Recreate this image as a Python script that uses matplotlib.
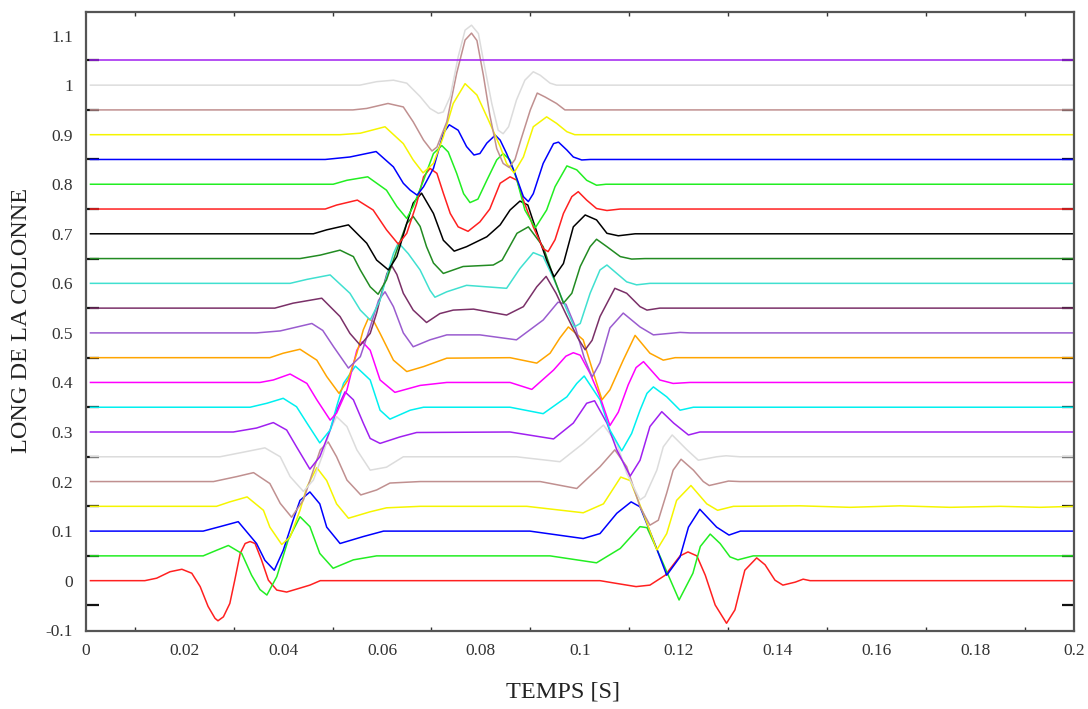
import numpy as np
import matplotlib
matplotlib.use("Agg")
import matplotlib.pyplot as plt

# each trace: (time [s], deviation from its baseline)
p00 = [(0.001, 0), (0.012, 0), (0.0144, 0.005), (0.0171, 0.018), (0.0195, 0.023), (0.0215, 0.015),
       (0.0232, -0.012), (0.0248, -0.052), (0.0262, -0.076), (0.0268, -0.081), (0.0279, -0.073),
       (0.0292, -0.046), (0.0302, 0.001), (0.0313, 0.055), (0.0323, 0.075), (0.0333, 0.079),
       (0.0343, 0.075), (0.0356, 0.042), (0.0370, 0.001), (0.0387, -0.019), (0.0407, -0.023),
       (0.0434, -0.015), (0.0454, -0.009), (0.0475, 0), (0.1041, 0), (0.1071, -0.005),
       (0.1114, -0.012), (0.1142, -0.009), (0.1173, 0.011), (0.1203, 0.050), (0.1219, 0.058),
       (0.1237, 0.050), (0.1254, 0.011), (0.1274, -0.049), (0.1297, -0.086), (0.1314, -0.059),
       (0.1334, 0.021), (0.1358, 0.046), (0.1375, 0.032), (0.1395, 0.001), (0.1411, -0.009),
       (0.1436, -0.003), (0.1452, 0.003), (0.1466, 0), (0.2, 0)]
p01 = [(0.001, 0), (0.0238, 0), (0.0262, 0.010), (0.0289, 0.021), (0.0316, 0.005), (0.0336, -0.039),
       (0.0353, -0.068), (0.0367, -0.079), (0.0387, -0.042), (0.0410, 0.032), (0.0434, 0.079),
       (0.0454, 0.059), (0.0474, 0.005), (0.0501, -0.025), (0.0542, -0.008), (0.0589, 0), (0.0940, 0),
       (0.1034, -0.014), (0.1082, 0.015), (0.1122, 0.059), (0.1136, 0.057), (0.1163, -0.002),
       (0.1201, -0.089), (0.1229, -0.035), (0.1244, 0.019), (0.1264, 0.044), (0.1284, 0.025),
       (0.1304, -0.002), (0.1320, -0.008), (0.1351, 0), (0.2, 0)]
p02 = [(0.001, 0), (0.0238, 0), (0.0272, 0.009), (0.0309, 0.019), (0.0346, -0.025), (0.0363, -0.059),
       (0.0382, -0.079), (0.0400, -0.039), (0.0420, 0.022), (0.0434, 0.062), (0.0454, 0.079),
       (0.0474, 0.055), (0.0488, 0.008), (0.0515, -0.025), (0.0562, -0.011), (0.0603, 0), (0.0899, 0),
       (0.1007, -0.015), (0.1041, -0.005), (0.1075, 0.036), (0.1104, 0.059), (0.1122, 0.049),
       (0.1149, -0.018), (0.1176, -0.089), (0.1203, -0.052), (0.1220, 0.008), (0.1243, 0.044),
       (0.1277, 0.008), (0.1302, -0.008), (0.1325, 0), (0.2, 0)]
p03 = [(0.001, 0), (0.0265, 0), (0.0292, 0.009), (0.0327, 0.019), (0.0360, -0.008), (0.0373, -0.042),
       (0.0397, -0.077), (0.0414, -0.062), (0.0434, -0.008), (0.0448, 0.039), (0.0468, 0.078),
       (0.0488, 0.052), (0.0508, 0.005), (0.0532, -0.024), (0.0576, -0.011), (0.0609, -0.003),
       (0.0677, 0), (0.0893, 0), (0.1007, -0.013), (0.1048, 0.005), (0.1083, 0.059), (0.1102, 0.052),
       (0.1129, -0.015), (0.1156, -0.088), (0.1176, -0.055), (0.1196, 0.012), (0.1225, 0.042),
       (0.1257, 0.005), (0.1279, -0.008), (0.1311, 0), (0.1446, 0.001), (0.1547, -0.002),
       (0.1648, 0.001), (0.1749, -0.002), (0.1851, 0), (0.1931, -0.002), (0.2, 0)]
p04 = [(0.001, 0), (0.0259, 0), (0.0306, 0.010), (0.0340, 0.018), (0.0373, -0.004), (0.0394, -0.044),
       (0.0417, -0.072), (0.0441, -0.037), (0.0461, 0.023), (0.0475, 0.064), (0.0491, 0.080),
       (0.0508, 0.050), (0.0529, 0.003), (0.0557, -0.027), (0.0589, -0.017), (0.0616, -0.003),
       (0.0677, 0), (0.0920, 0), (0.0994, -0.014), (0.1041, 0.030), (0.1071, 0.064), (0.1095, 0.030),
       (0.1122, -0.051), (0.1142, -0.088), (0.1159, -0.078), (0.1176, -0.023), (0.1189, 0.023),
       (0.1205, 0.045), (0.1230, 0.023), (0.1250, 0), (0.1262, -0.008), (0.1301, 0.001), (0.1324, 0),
       (0.2, 0)]
p05 = [(0.001, 0), (0.0272, 0), (0.0323, 0.010), (0.0363, 0.018), (0.0394, 0), (0.0414, -0.040),
       (0.0441, -0.070), (0.0461, -0.047), (0.0481, 0.007), (0.0495, 0.054), (0.0508, 0.081),
       (0.0529, 0.061), (0.0549, 0.014), (0.0576, -0.027), (0.0609, -0.021), (0.0643, 0), (0.0872, 0),
       (0.0960, -0.010), (0.1007, 0.027), (0.1048, 0.064), (0.1075, 0.027), (0.1095, -0.033),
       (0.1122, -0.087), (0.1132, -0.080), (0.1156, -0.027), (0.1169, 0.020), (0.1187, 0.044),
       (0.1217, 0.014), (0.1240, -0.007), (0.1277, 0), (0.1296, 0.002), (0.1324, 0), (0.2, 0)]
p06 = [(0.001, 0), (0.0299, 0), (0.0346, 0.008), (0.0380, 0.019), (0.0407, 0.004), (0.0427, -0.030),
       (0.0454, -0.075), (0.0474, -0.050), (0.0495, 0.004), (0.0508, 0.044), (0.0525, 0.081),
       (0.0542, 0.065), (0.0562, 0.018), (0.0576, -0.013), (0.0596, -0.023), (0.0636, -0.010),
       (0.0670, -0.001), (0.0859, 0), (0.0947, -0.014), (0.0987, 0.018), (0.1014, 0.058),
       (0.1030, 0.063), (0.1055, 0.018), (0.1075, -0.036), (0.1102, -0.089), (0.1122, -0.057),
       (0.1142, 0.011), (0.1166, 0.041), (0.1190, 0.018), (0.1220, -0.006), (0.1243, 0), (0.2, 0)]
p07 = [(0.001, 0), (0.0333, 0), (0.0367, 0.008), (0.0400, 0.018), (0.0427, 0.001), (0.0448, -0.032),
       (0.0474, -0.072), (0.0495, -0.046), (0.0508, 0.001), (0.0522, 0.048), (0.0546, 0.083),
       (0.0560, 0.070), (0.0576, 0.055), (0.0596, -0.006), (0.0616, -0.024), (0.0657, -0.006),
       (0.0684, 0), (0.0859, 0), (0.0926, -0.013), (0.0974, 0.021), (0.0994, 0.048), (0.1009, 0.063),
       (0.1041, 0.015), (0.1061, -0.046), (0.1085, -0.088), (0.1105, -0.053), (0.1122, -0.006),
       (0.1136, 0.028), (0.1149, 0.041), (0.1176, 0.021), (0.1203, -0.006), (0.1230, 0), (0.2, 0)]
p08 = [(0.001, 0), (0.0353, 0), (0.0380, 0.005), (0.0414, 0.017), (0.0448, -0.002), (0.0468, -0.035),
       (0.0495, -0.076), (0.0508, -0.062), (0.0529, -0.015), (0.0549, 0.065), (0.0560, 0.082),
       (0.0576, 0.065), (0.0596, 0.005), (0.0626, -0.020), (0.0677, -0.006), (0.0731, 0), (0.0859, 0),
       (0.0903, -0.014), (0.0947, 0.025), (0.0972, 0.053), (0.0987, 0.060), (0.1001, 0.055),
       (0.1021, 0.018), (0.1041, -0.029), (0.1061, -0.087), (0.1078, -0.060), (0.1098, -0.005),
       (0.1114, 0.030), (0.1129, 0.042), (0.1162, 0.005), (0.1189, -0.002), (0.1223, 0), (0.2, 0)]
p09 = [(0.001, 0), (0.0373, 0), (0.0400, 0.009), (0.0434, 0.017), (0.0468, -0.005), (0.0488, -0.038),
       (0.0513, -0.072), (0.0531, -0.045), (0.0549, 0.009), (0.0562, 0.056), (0.0572, 0.079),
       (0.0584, 0.072), (0.0596, 0.049), (0.0623, -0.005), (0.0650, -0.028), (0.0684, -0.018),
       (0.0731, -0.001), (0.0859, 0), (0.0913, -0.011), (0.0940, 0.009), (0.0960, 0.040),
       (0.0977, 0.062), (0.1007, 0.036), (0.1028, -0.032), (0.1045, -0.085), (0.1061, -0.065),
       (0.1088, -0.005), (0.1112, 0.045), (0.1142, 0.009), (0.1169, -0.005), (0.1193, 0), (0.2, 0)]
p10 = [(0.001, 0), (0.0346, 0), (0.0394, 0.004), (0.0458, 0.019), (0.0480, 0.005), (0.0502, -0.028),
       (0.0532, -0.071), (0.0556, -0.048), (0.0576, 0.012), (0.0593, 0.066), (0.0606, 0.083),
       (0.0623, 0.053), (0.0643, 0), (0.0663, -0.028), (0.0697, -0.014), (0.0731, -0.004),
       (0.0798, -0.004), (0.0872, -0.014), (0.0926, 0.026), (0.0956, 0.062), (0.0972, 0.058),
       (0.0990, 0.015), (0.1009, -0.050), (0.1025, -0.089), (0.1041, -0.060), (0.1061, 0.010),
       (0.1088, 0.040), (0.1122, 0.012), (0.1149, -0.004), (0.1203, 0.001), (0.1223, 0), (0.2, 0)]
p11 = [(0.001, 0), (0.0383, 0), (0.0420, 0.010), (0.0478, 0.020), (0.0515, -0.017), (0.0535, -0.051),
       (0.0556, -0.075), (0.0576, -0.051), (0.0589, -0.010), (0.0599, 0.030), (0.0610, 0.070),
       (0.0620, 0.085), (0.0630, 0.068), (0.0643, 0.030), (0.0663, -0.004), (0.0690, -0.029),
       (0.0717, -0.011), (0.0744, -0.004), (0.0785, -0.002), (0.0852, -0.014), (0.0886, 0.003),
       (0.0913, 0.043), (0.0932, 0.064), (0.0952, 0.030), (0.0974, -0.016), (0.0996, -0.060),
       (0.1011, -0.084), (0.1025, -0.065), (0.1041, -0.017), (0.1071, 0.040), (0.1095, 0.030),
       (0.1122, 0.003), (0.1136, -0.004), (0.1162, 0), (0.2, 0)]
p12 = [(0.001, 0), (0.0414, 0), (0.0448, 0.008), (0.0495, 0.017), (0.0535, -0.020), (0.0556, -0.054),
       (0.0576, -0.074), (0.0596, -0.034), (0.0609, 0.013), (0.0623, 0.060), (0.0633, 0.082),
       (0.0653, 0.060), (0.0677, 0.027), (0.0697, -0.014), (0.0707, -0.028), (0.0731, -0.017),
       (0.0771, -0.004), (0.0852, -0.010), (0.0879, 0.030), (0.0906, 0.062), (0.0926, 0.054),
       (0.0947, 0.010), (0.0968, -0.040), (0.0989, -0.088), (0.1001, -0.081), (0.1021, -0.020),
       (0.1041, 0.027), (0.1055, 0.037), (0.1075, 0.020), (0.1095, 0.003), (0.1115, -0.003),
       (0.1142, 0), (0.2, 0)]
p13 = [(0.001, 0), (0.0434, 0), (0.0475, 0.007), (0.0515, 0.017), (0.0542, 0.004), (0.0556, -0.023),
       (0.0576, -0.057), (0.0592, -0.072), (0.0609, -0.043), (0.0630, 0.017), (0.0650, 0.071),
       (0.0663, 0.085), (0.0677, 0.065), (0.0690, 0.024), (0.0704, -0.009), (0.0724, -0.030),
       (0.0764, -0.016), (0.0825, -0.013), (0.0843, -0.003), (0.0873, 0.051), (0.0896, 0.064),
       (0.0926, 0.024), (0.0947, -0.037), (0.0967, -0.090), (0.0984, -0.070), (0.1001, -0.016),
       (0.1021, 0.024), (0.1034, 0.039), (0.1055, 0.024), (0.1082, 0.004), (0.1105, -0.001),
       (0.1132, 0), (0.2, 0)]
p14 = [(0.001, 0), (0.0461, 0), (0.0488, 0.008), (0.0532, 0.018), (0.0569, -0.019), (0.0589, -0.053),
       (0.0613, -0.073), (0.0630, -0.046), (0.0650, 0.021), (0.0663, 0.062), (0.0680, 0.082),
       (0.0704, 0.041), (0.0724, -0.013), (0.0746, -0.035), (0.0771, -0.026), (0.0812, -0.006),
       (0.0839, 0.018), (0.0859, 0.048), (0.0879, 0.066), (0.0895, 0.058), (0.0914, 0.001),
       (0.0933, -0.053), (0.0948, -0.087), (0.0967, -0.060), (0.0987, 0.014), (0.1011, 0.038),
       (0.1034, 0.028), (0.1055, 0.001), (0.1078, -0.004), (0.1112, 0), (0.2, 0)]
p15 = [(0.001, 0), (0.0485, 0), (0.0508, 0.008), (0.0550, 0.018), (0.0582, -0.002), (0.0609, -0.042),
       (0.0633, -0.071), (0.0650, -0.049), (0.0670, 0.011), (0.0684, 0.065), (0.0697, 0.082),
       (0.0711, 0.072), (0.0724, 0.032), (0.0738, -0.009), (0.0754, -0.036), (0.0774, -0.045),
       (0.0798, -0.026), (0.0818, 0.000), (0.0839, 0.052), (0.0859, 0.065), (0.0873, 0.058),
       (0.0886, 0.018), (0.0906, -0.036), (0.0926, -0.080), (0.0936, -0.086), (0.0950, -0.062),
       (0.0967, -0.009), (0.0984, 0.025), (0.0997, 0.035), (0.1014, 0.018), (0.1034, 0.001),
       (0.1055, -0.003), (0.1082, 0), (0.2, 0)]
p16 = [(0.001, 0), (0.0501, 0), (0.0529, 0.008), (0.0571, 0.015), (0.0609, -0.012), (0.0630, -0.045),
       (0.0650, -0.069), (0.0663, -0.045), (0.0684, 0.008), (0.0704, 0.062), (0.0721, 0.078),
       (0.0734, 0.065), (0.0751, 0.022), (0.0765, -0.019), (0.0778, -0.037), (0.0794, -0.030),
       (0.0812, 0.008), (0.0832, 0.049), (0.0845, 0.062), (0.0859, 0.049), (0.0873, 0.008),
       (0.0889, -0.052), (0.0910, -0.088), (0.0933, -0.052), (0.0950, -0.005), (0.0974, 0.037),
       (0.0994, 0.029), (0.1014, 0.008), (0.1034, -0.002), (0.1053, 0), (0.2, 0)]
p17 = [(0.001, 0), (0.0485, 0), (0.0535, 0.005), (0.0588, 0.016), (0.0623, -0.015), (0.0643, -0.048),
       (0.0657, -0.062), (0.0671, -0.072), (0.0684, -0.055), (0.0704, -0.018), (0.0724, 0.053),
       (0.0736, 0.070), (0.0754, 0.059), (0.0771, 0.026), (0.0786, 0.009), (0.0798, 0.012),
       (0.0812, 0.033), (0.0829, 0.049), (0.0839, 0.039), (0.0852, 0.012), (0.0869, -0.028),
       (0.0886, -0.075), (0.0896, -0.085), (0.0906, -0.069), (0.0926, -0.008), (0.0947, 0.032),
       (0.0957, 0.035), (0.0974, 0.019), (0.0987, 0.005), (0.1004, -0.001), (0.1021, 0), (0.2, 0)]
p18 = [(0.001, 0), (0.0515, 0), (0.0556, 0.003), (0.0606, 0.016), (0.0643, -0.018), (0.0663, -0.051),
       (0.0683, -0.077), (0.0704, -0.058), (0.0724, -0.004), (0.0744, 0.063), (0.0768, 0.103),
       (0.0792, 0.080), (0.0815, 0.030), (0.0839, -0.024), (0.0852, -0.058), (0.0867, -0.077),
       (0.0886, -0.045), (0.0906, 0.016), (0.0933, 0.036), (0.0953, 0.023), (0.0974, 0.006),
       (0.0990, 0), (0.2, 0)]
p19 = [(0.001, 0), (0.0541, 0), (0.0569, 0.003), (0.0612, 0.013), (0.0643, 0.006), (0.0663, -0.024),
       (0.0684, -0.061), (0.0701, -0.083), (0.0711, -0.075), (0.0731, -0.024), (0.0751, 0.074),
       (0.0768, 0.141), (0.0781, 0.155), (0.0792, 0.140), (0.0805, 0.070), (0.0818, -0.010),
       (0.0832, -0.078), (0.0845, -0.108), (0.0857, -0.116), (0.0869, -0.100), (0.0881, -0.060),
       (0.0900, 0.000), (0.0914, 0.034), (0.0930, 0.026), (0.0953, 0.013), (0.0970, 0), (0.2, 0)]
p20 = [(0.001, 0), (0.0555, 0), (0.0589, 0.007), (0.0623, 0.010), (0.0650, 0.004), (0.0677, -0.023),
       (0.0697, -0.047), (0.0714, -0.057), (0.0724, -0.054), (0.0738, -0.023), (0.0754, 0.057),
       (0.0768, 0.111), (0.0781, 0.121), (0.0795, 0.104), (0.0805, 0.050), (0.0822, -0.037),
       (0.0835, -0.091), (0.0845, -0.098), (0.0856, -0.084), (0.0872, -0.030), (0.0889, 0.010),
       (0.0906, 0.027), (0.0920, 0.020), (0.0940, 0.004), (0.0953, 0), (0.2, 0)]
p21 = [(0.001, 0), (0.2, 0)]

traces = [p00, p01, p02, p03, p04, p05, p06, p07, p08, p09, p10,
          p11, p12, p13, p14, p15, p16, p17, p18, p19, p20, p21]
offsets = [0.00, 0.05, 0.10, 0.15, 0.20, 0.25, 0.30, 0.35, 0.40, 0.45, 0.50,
           0.55, 0.60, 0.65, 0.70, 0.75, 0.80, 0.85, 0.90, 0.95, 1.00, 1.05]
colors = ["#ff2020", "#22ee22", "#0000ff", "#f5f500", "#c09090", "#dcdcdc", "#a020f0",
          "#00f0f0", "#ff00ff", "#ffa500", "#9a5ccf", "#7a3068", "#40e0d0", "#228b22",
          "#000000", "#ff2020", "#22ee22", "#0000ff", "#f5f500", "#c09090", "#dcdcdc", "#a020f0"]

x_ticks = [0, 0.02, 0.04, 0.06, 0.08, 0.1, 0.12, 0.14, 0.16, 0.18, 0.2]
x_labels = ["0", "0.02", "0.04", "0.06", "0.08", "0.1", "0.12", "0.14", "0.16", "0.18", "0.2"]
y_ticks = [-0.1, 0, 0.1, 0.2, 0.3, 0.4, 0.5, 0.6, 0.7, 0.8, 0.9, 1.0, 1.1]
y_labels = ["-0.1", "0", "0.1", "0.2", "0.3", "0.4", "0.5", "0.6", "0.7", "0.8", "0.9", "1", "1.1"]

plt.rcParams["font.family"] = ["Liberation Serif", "DejaVu Serif"]

fig = plt.figure(figsize=(10.88, 7.09), dpi=100)
ax = fig.add_axes([0.0786, 0.1105, 0.9085, 0.8725])

for pts, off, c in zip(traces, offsets, colors):
    t, dy = zip(*pts)
    ax.plot(t, off + np.array(dy), color=c, lw=1.1, solid_joinstyle="round")

ax.set_xlim(0, 0.2)
ax.set_ylim(-0.1009, 1.1475)

ax.set_xticks(x_ticks)
ax.set_xticklabels(x_labels)
ax.set_xticks(np.arange(0.01, 0.2, 0.02), minor=True)
ax.set_yticks(y_ticks)
ax.set_yticklabels(y_labels)
ax.set_yticks(np.arange(-0.05, 1.1, 0.1), minor=True)

ax.tick_params(axis="both", which="major", length=0, labelsize=12.5, labelcolor="#333333")
ax.tick_params(axis="x", which="major", pad=9)
ax.tick_params(axis="y", which="major", pad=9)
ax.tick_params(axis="x", which="minor", direction="in", length=3, width=1,
               color="#333333", top=True, bottom=True)
ax.tick_params(axis="y", which="minor", direction="in", length=9, width=1.6,
               color="#111111", left=True, right=True)

for s in ax.spines.values():
    s.set_color("#555555")
    s.set_linewidth(1.6)

fig.text(563 / 1088, 1 - 692 / 709, "TEMPS [S]", ha="center", va="center",
         fontsize=17.5, color="#222222")
fig.text(22 / 1088, 1 - 320 / 709, "LONG DE LA COLONNE", ha="center", va="center",
         rotation=90, fontsize=17.5, color="#222222")

fig.savefig("out.png", dpi=100)
